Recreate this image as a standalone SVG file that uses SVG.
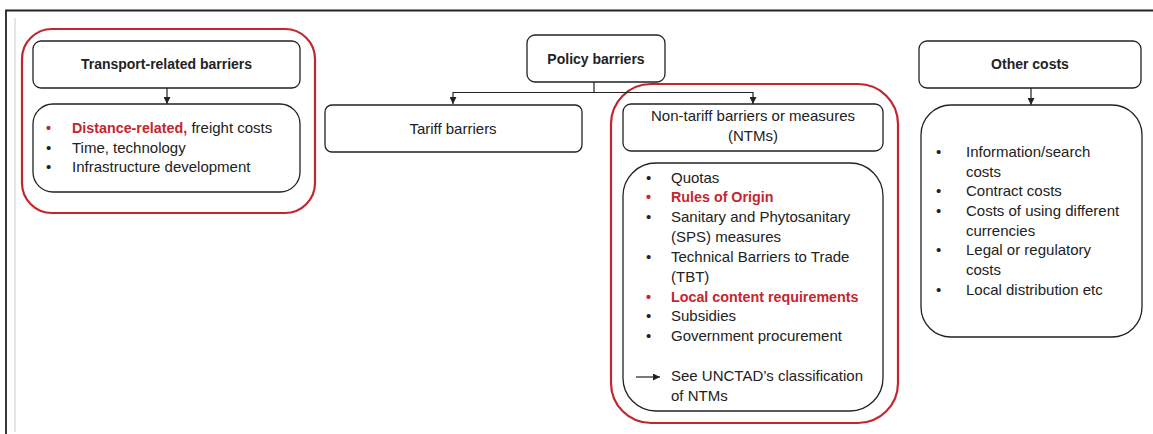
<svg xmlns="http://www.w3.org/2000/svg" width="1153" height="434" viewBox="0 0 1153 434">
<defs>
<style>
.box{fill:#fff;stroke:#222;stroke-width:1.3}
.red{fill:none;stroke:#c4262e;stroke-width:2.2}
text{font-family:"Liberation Sans",Arial,sans-serif;font-size:15px;fill:#222}
.b{font-weight:bold;font-size:14px}
.r{fill:#c4262e;font-weight:bold;font-size:14.3px}
.c{text-anchor:middle}
.con{fill:none;stroke:#222;stroke-width:1.2}
</style>
<marker id="ah" viewBox="0 0 10 10" refX="10" refY="5" markerWidth="7" markerHeight="7" markerUnits="userSpaceOnUse" orient="auto">
<path d="M0,0 L10,5 L0,10 z" fill="#222"/>
</marker>
</defs>
<rect width="1153" height="434" fill="#fff"/>
<g id="frame">
<path d="M6,434 V10.5 H1153" fill="none" stroke="#222" stroke-width="1.8"/>
<line x1="15" y1="18" x2="15" y2="432" stroke="#ddd" stroke-width="1.5"/>
</g>
<g id="red-highlights">
<rect class="red" x="22" y="29" width="293" height="184" rx="30"/>
<rect class="red" x="611" y="84" width="287" height="339" rx="40"/>
</g>
<g id="connectors">
<line class="con" x1="167" y1="88" x2="167" y2="104" marker-end="url(#ah)"/>
<path class="con" d="M594,82 V92.5 H453 V104" marker-end="url(#ah)"/>
<path class="con" d="M594,92.5 H753 V104" marker-end="url(#ah)"/>
<line class="con" x1="1031" y1="88" x2="1031" y2="105" marker-end="url(#ah)"/>
</g>
<g id="transport">
<rect class="box" x="33" y="41" width="267" height="47" rx="8"/>
<text class="b c" x="166.5" y="69">Transport-related barriers</text>
</g>
<g id="transport-list">
<rect class="box" x="33" y="104" width="267" height="88" rx="20"/>
<text x="46" y="133" class="r">•</text><text x="72" y="133"><tspan class="r">Distance-related,</tspan> freight costs</text>
<text x="46" y="152.5">•</text><text x="72" y="152.5">Time, technology</text>
<text x="46" y="172">•</text><text x="72" y="172">Infrastructure development</text>
</g>
<g id="policy">
<rect class="box" x="527" y="35" width="138" height="47" rx="8"/>
<text class="b c" x="596" y="64">Policy barriers</text>
</g>
<g id="tariff">
<rect class="box" x="325" y="105" width="257" height="47" rx="7"/>
<text class="c" x="453" y="134">Tariff barriers</text>
</g>
<g id="ntm">
<rect class="box" x="623" y="104" width="260" height="47" rx="8"/>
<text class="c" x="753" y="121">Non-tariff barriers or measures</text>
<text class="c" x="753" y="141">(NTMs)</text>
</g>
<g id="ntm-list">
<rect class="box" x="623" y="163" width="260" height="248" rx="33"/>
<text x="646" y="183">•</text><text x="671" y="183">Quotas</text>
<text x="646" y="202" class="r">•</text><text x="671" y="202" class="r">Rules of Origin</text>
<text x="646" y="222">•</text><text x="671" y="222">Sanitary and Phytosanitary</text>
<text x="671" y="242">(SPS) measures</text>
<text x="646" y="262">•</text><text x="671" y="262">Technical Barriers to Trade</text>
<text x="671" y="282">(TBT)</text>
<text x="646" y="302" class="r">•</text><text x="671" y="302" class="r">Local content requirements</text>
<text x="646" y="321">•</text><text x="671" y="321">Subsidies</text>
<text x="646" y="341">•</text><text x="671" y="341">Government procurement</text>
<line class="con" x1="636" y1="377" x2="660" y2="377" marker-end="url(#ah)"/>
<text x="671" y="381">See UNCTAD’s classification</text>
<text x="671" y="401">of NTMs</text>
</g>
<g id="other">
<rect class="box" x="919" y="41" width="222" height="47" rx="8"/>
<text class="b c" x="1030" y="69">Other costs</text>
</g>
<g id="other-list">
<rect class="box" x="921" y="105" width="221" height="232" rx="30"/>
<text x="936" y="157">•</text><text x="966" y="157">Information/search</text>
<text x="966" y="176.5">costs</text>
<text x="936" y="196">•</text><text x="966" y="196">Contract costs</text>
<text x="936" y="216">•</text><text x="966" y="216">Costs of using different</text>
<text x="966" y="235.5">currencies</text>
<text x="936" y="255">•</text><text x="966" y="255">Legal or regulatory</text>
<text x="966" y="275">costs</text>
<text x="936" y="294.5">•</text><text x="966" y="294.5">Local distribution etc</text>
</g>
</svg>
